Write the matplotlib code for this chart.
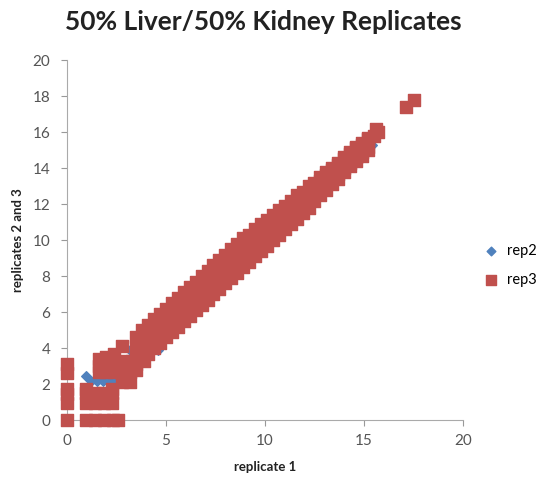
import matplotlib
matplotlib.use("Agg")
import matplotlib.pyplot as plt

# rep3 (red squares)
# low-value cluster near the origin
low_x = [0, 0, 0, 0, 0, 0,
         0.95, 1.4, 1.9, 2.35, 2.6,
         0.95, 0.95, 1.4, 1.4, 1.9, 1.9, 2.3, 2.3, 0.95, 2.3,
         1.6, 1.6, 1.6, 2.0, 2.0, 2.0, 2.4, 2.4, 2.4, 2.8, 2.8, 2.8, 2.8,
         3.2, 3.2, 3.3, 3.5, 3.5, 3.9, 3.9]
low_y = [0, 0.95, 1.45, 1.75, 2.6, 3.1,
         0, 0, 0, 0, 0,
         0.95, 1.5, 0.95, 1.5, 0.95, 1.5, 0.95, 1.5, 1.75, 1.75,
         2.65, 3.0, 3.4, 2.65, 3.1, 3.5, 2.7, 3.2, 3.7, 2.1, 2.6, 3.3, 4.1,
         2.1, 2.7, 3.3, 2.8, 3.6, 3.3, 4.2]

# main diagonal band, four rows of points
band_x = [3.5, 3.8, 4.1, 4.4, 4.7, 5.0, 5.3, 5.6, 5.9, 6.2, 6.5, 6.8, 7.1, 7.4, 7.7, 8.0, 8.3,
          8.6, 8.9, 9.2, 9.5, 9.8, 10.1, 10.4, 10.7, 11.0, 11.3, 11.6, 11.9, 12.2, 12.5, 12.8,
          13.1, 13.4, 13.7, 14.0, 14.3, 14.6, 14.9, 15.2]
band_top = [4.6, 5.0, 5.3, 5.6, 5.9, 6.2, 6.5, 6.8, 7.1, 7.4, 7.7, 8.0, 8.3, 8.6, 8.9, 9.2, 9.5,
            9.8, 10.1, 10.3, 10.6, 10.9, 11.1, 11.4, 11.7, 11.9, 12.2, 12.5, 12.7, 13.0, 13.2, 13.5,
            13.8, 14.0, 14.3, 14.6, 14.9, 15.2, 15.4, 15.7]
band_mid = [4.1, 4.4, 4.7, 5.0, 5.3, 5.6, 5.9, 6.2, 6.5, 6.8, 7.1, 7.4, 7.7, 8.0, 8.3, 8.6, 8.9,
            9.2, 9.5, 9.8, 10.1, 10.4, 10.6, 10.9, 11.2, 11.5, 11.8, 12.1, 12.4, 12.7, 13.0, 13.3,
            13.6, 13.9, 14.2, 14.5, 14.8, 15.1, 15.3, 15.6]
band_low = [3.5, 3.8, 4.1, 4.4, 4.7, 5.0, 5.3, 5.6, 5.9, 6.2, 6.5, 6.8, 7.1, 7.4, 7.7, 8.0, 8.3,
            8.6, 8.9, 9.2, 9.5, 9.8, 10.1, 10.4, 10.7, 11.0, 11.3, 11.6, 11.9, 12.2, 12.5, 12.8,
            13.1, 13.4, 13.7, 14.0, 14.3, 14.6, 14.9, 15.2]
band_bot = [3.1, 3.4, 3.7, 4.0, 4.3, 4.6, 4.9, 5.2, 5.5, 5.8, 6.1, 6.4, 6.7, 7.0, 7.3, 7.6, 7.9,
            8.2, 8.5, 8.8, 9.1, 9.4, 9.7, 10.0, 10.3, 10.6, 10.9, 11.2, 11.5, 11.8, 12.2, 12.5,
            12.8, 13.1, 13.4, 13.8, 14.1, 14.4, 14.7, 15.0]

# the few points above the band's end
top_x = [15.5, 15.6, 15.7, 17.1, 17.5]
top_y = [15.8, 16.2, 16.0, 17.4, 17.8]

# rep2 (blue diamonds), mostly hidden behind rep3
rep2_x = [0.95, 1.2, 1.5, 1.8, 2.1, 2.4, 3.0, 3.2, 4.6, 6.0, 8.0, 10.0, 12.0, 14.5, 15.4]
rep2_y = [2.45, 2.2, 2.15, 2.15, 2.15, 2.15, 2.7, 3.9, 3.9, 6.0, 8.0, 10.0, 12.0, 14.4, 15.3]

xticks = [0, 5, 10, 15, 20]
yticks = [0, 2, 4, 6, 8, 10, 12, 14, 16, 18, 20]

rep3_x = low_x + band_x * 4 + top_x
rep3_y = low_y + band_top + band_mid + band_low + band_bot + top_y

plt.rcParams['font.family'] = ['Lato', 'DejaVu Sans']

fig = plt.figure(figsize=(5.48, 4.78), dpi=100)
ax = fig.add_axes([0.122, 0.121, 0.723, 0.753])

ax.scatter(rep2_x, rep2_y, marker='D', s=24, color='#4F81BD', label='rep2',
           zorder=2, clip_on=False)
ax.scatter(rep3_x, rep3_y, marker='s', s=64, color='#C0504D', label='rep3',
           zorder=3, clip_on=False)

ax.set_xlim(0, 20)
ax.set_ylim(0, 20)
ax.set_xticks(xticks)
ax.set_yticks(yticks)
ax.tick_params(colors='#999999', labelcolor='#555555', labelsize=11, length=4)
ax.tick_params(axis='y', pad=8)
ax.tick_params(axis='x', pad=6)
for s in ['top', 'right']:
    ax.spines[s].set_visible(False)
for s in ['left', 'bottom']:
    ax.spines[s].set_color('#AAAAAA')

ax.set_xlabel('replicate 1', fontsize=9.5, fontweight='bold', color='#222222', labelpad=9)
ax.set_ylabel('replicates 2 and 3', fontsize=9.5, fontweight='bold', color='#222222', labelpad=6)
fig.suptitle('50% Liver/50% Kidney Replicates', fontsize=19, fontweight='bold',
             color='#222222', x=0.48, y=0.98)

ax.legend(loc='center left', bbox_to_anchor=(1.0, 0.43), frameon=False,
          fontsize=10.5, handletextpad=0.1, labelspacing=1.0, markerscale=0.9)

fig.savefig('out.png', dpi=100)
